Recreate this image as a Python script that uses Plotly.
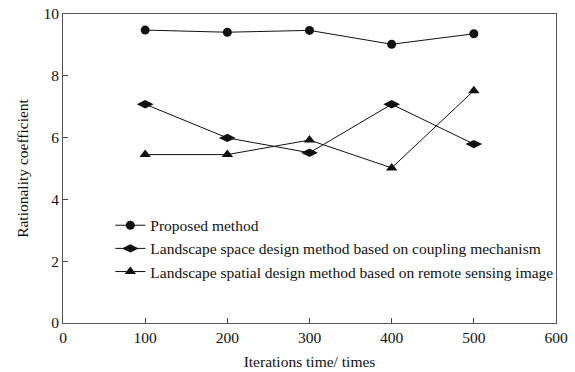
import plotly.graph_objects as go

iterations = [100, 200, 300, 400, 500]
proposed = [9.48, 9.41, 9.47, 9.02, 9.36]
coupling = [7.08, 5.99, 5.51, 7.08, 5.79]
remote = [5.45, 5.45, 5.92, 5.02, 7.52]

names = [
    "Proposed method",
    "Landscape space design method based on coupling mechanism",
    "Landscape spatial design method based on remote sensing image",
]
symbols = ["circle", "diamond-wide", "triangle-up"]
sizes = [9, 12, 10]

font = dict(family="Liberation Serif", color="#111", size=15.5)

fig = go.Figure()
for ys, name, sym, sz in zip([proposed, coupling, remote], names, symbols, sizes):
    fig.add_trace(go.Scatter(
        x=iterations, y=ys, name=name, mode="lines+markers",
        line=dict(color="#111", width=1),
        marker=dict(symbol=sym, size=sz, color="#111"),
    ))

axis_common = dict(
    showline=True, linecolor="#555", linewidth=1, mirror=True,
    ticks="inside", ticklen=5, tickcolor="#444", showgrid=False,
    zeroline=False, tickfont=font, automargin=False,
)

fig.update_layout(
    width=575, height=372,
    margin=dict(l=63, r=19, t=14, b=49),
    paper_bgcolor="white", plot_bgcolor="white",
    font=font,
    xaxis=dict(range=[0, 600], dtick=100, title=dict(text="Iterations time/ times", font=font, standoff=11), **axis_common),
    yaxis=dict(range=[0, 10], dtick=2, title=dict(text="Rationality coefficient", font=font, standoff=10), **axis_common),
    legend=dict(x=0.096, y=0.37, xanchor="left", yanchor="top", bgcolor="rgba(0,0,0,0)",
                font=font, tracegroupgap=0, itemwidth=30),
    showlegend=True,
)

fig.write_html("out.html")
